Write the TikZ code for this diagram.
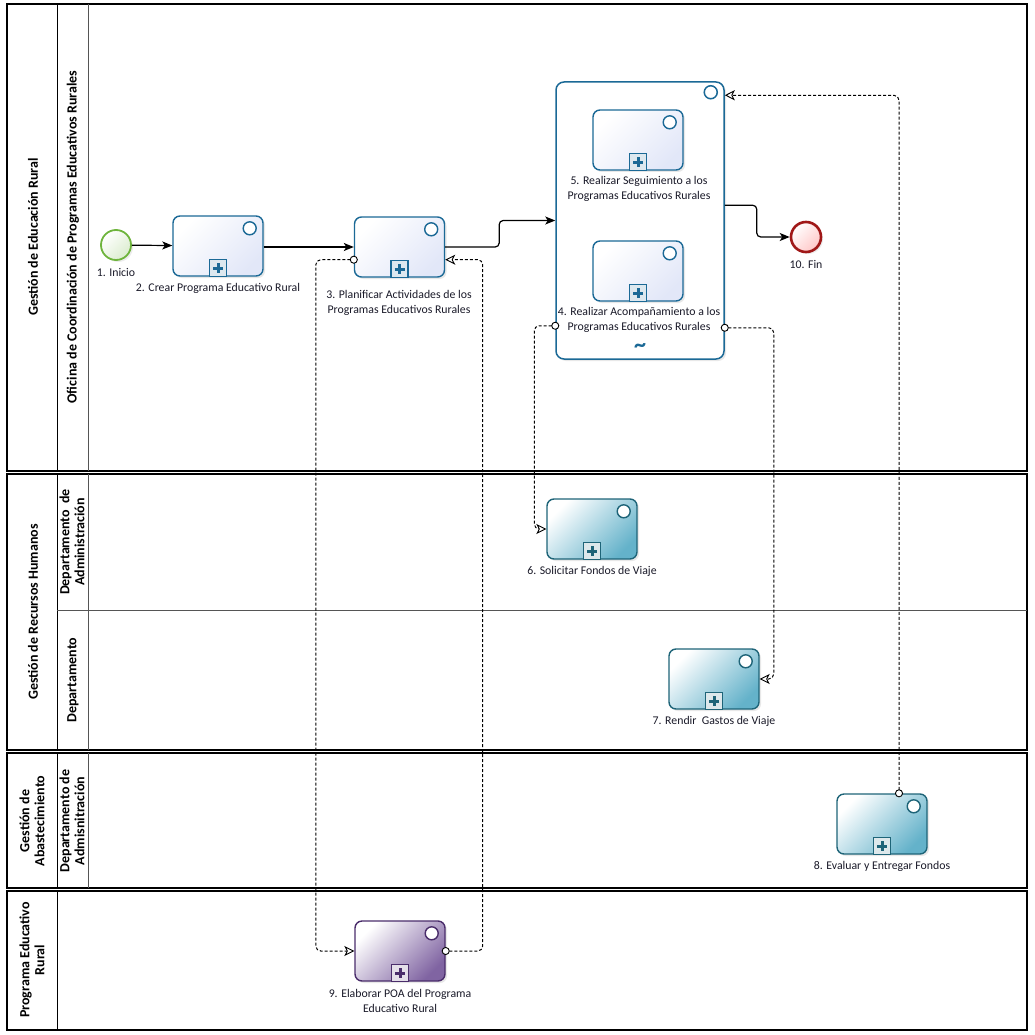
\documentclass[tikz,border=0pt]{standalone}
\usepackage{fontspec}
\setmainfont{Carlito}
\usetikzlibrary{arrows.meta,calc,shadows}
\definecolor{tblue}{RGB}{27,105,150}
\definecolor{tbluefill}{RGB}{226,231,248}
\definecolor{tteal}{RGB}{30,100,120}
\definecolor{ttealfill}{RGB}{100,178,202}
\definecolor{tpurp}{RGB}{74,45,107}
\definecolor{tpurpfill}{RGB}{128,100,162}
\definecolor{sgreen}{RGB}{110,180,60}
\definecolor{ered}{RGB}{160,24,24}
\definecolor{lanegray}{RGB}{85,85,85}
\definecolor{txt}{RGB}{25,25,40}
\tikzset{
  pool/.style={draw=black, line width=1.3pt},
  poolsep/.style={draw=black, line width=1pt},
  lanesep/.style={draw=lanegray, line width=0.9pt},
  poollabel/.style={rotate=90, font=\bfseries\fontsize{14}{15}\selectfont, align=center, text=black},
  taskbase/.style={rectangle, rounded corners=7pt, minimum width=90pt, minimum height=60pt,
     line width=1.4pt, drop shadow={shadow xshift=2pt, shadow yshift=-2pt, opacity=0.18}},
  taskblue/.style={taskbase, draw=tblue, top color=white, bottom color=tbluefill, shading angle=45},
  taskteal/.style={taskbase, draw=tteal, top color=white, bottom color=ttealfill, shading angle=45},
  taskpurp/.style={taskbase, draw=tpurp, top color=white, bottom color=tpurpfill, shading angle=45},
  lbl/.style={font=\fontsize{11.8}{14.5}\selectfont, align=center, text=txt, inner sep=0pt},
  seq/.style={draw=black, line width=1.2pt, rounded corners=4pt, -{Stealth[length=10pt,width=8pt,inset=2.5pt]}},
  msg/.style={draw=black, line width=1pt, dash pattern=on 3pt off 2pt, rounded corners=5pt,
     {Circle[open,length=8pt,width=8pt,line width=0.9pt,fill=white]}-{Stealth[open,length=10pt,width=10pt,inset=2.5pt,fill=white,line width=0.9pt]},
     shorten <=-4pt}
}
\newcommand\tmarks[2]{%
  \draw[#2, line width=1.4pt, fill=white] ($(#1.north east)+(-14,13)$) circle[radius=6.5pt];
  \draw[#2, line width=1.4pt, fill=white!85!#2] ($(#1.south)+(-8.5,0)$) rectangle ($(#1.south)+(8.5,-17)$);
  \draw[#2, line width=3pt] ($(#1.south)+(-5,-8.5)$) -- ($(#1.south)+(5,-8.5)$)
        ($(#1.south)+(0,-13.5)$) -- ($(#1.south)+(0,-3.5)$);
}
\begin{document}
\begin{tikzpicture}[x=1pt,y=-1pt]
\useasboundingbox (0,0) rectangle (1034,1035);
% ---------- pools ----------
\draw[pool] (7,4) rectangle (1027,471);
\draw[poolsep] (57,4) -- (57,471);
\draw[lanesep] (88,4) -- (88,471);
\draw[pool] (7,474) rectangle (1027,750);
\draw[poolsep] (57,474) -- (57,750);
\draw[lanesep] (88,474) -- (88,750);
\draw[lanesep] (57,610) -- (1027,610);
\draw[pool] (7,753) rectangle (1027,888);
\draw[poolsep] (57,753) -- (57,888);
\draw[lanesep] (88,753) -- (88,888);
\draw[pool] (7,891) rectangle (1027,1030);
\draw[poolsep] (57,891) -- (57,1030);
% pool labels
\node[poollabel] (p1) at (33,237) {Gestión de Educación Rural};
\node[poollabel] (l1) at (73,237) {Oficina de Coordinación de Programas Educativos Rurales};
\node[poollabel] (p2) at (33,612) {Gestión de Recursos Humanos};
\node[poollabel] (l2) at (72,542) {Departamento \ de\\Administración};
\node[poollabel] (l3) at (73,680) {Departamento};
\node[poollabel] (p3) at (32,821) {Gestión de\\Abastecimiento};
\node[poollabel] (l4) at (72,821) {Departamento de\\Admisnitración};
\node[poollabel] (p4) at (32,960) {Programa Educativo\\Rural};
% ---------- events ----------
\node[circle, minimum size=30pt, draw=sgreen, line width=1.8pt, top color=white, bottom color=sgreen!25, shading angle=45,
      drop shadow={shadow xshift=2pt, shadow yshift=-2pt, opacity=0.15}] (s1) at (116,245) {};
\node[lbl] (s1l) at (116,272) {1. Inicio};
\node[circle, minimum size=30pt, draw=ered, line width=2.6pt, top color=white, bottom color=red!22, shading angle=45,
      drop shadow={shadow xshift=2pt, shadow yshift=-2pt, opacity=0.15}] (e10) at (806,237) {};
\node[lbl] (e10l) at (806,264) {10. Fin};
% ---------- tasks ----------
\node[taskblue] (t2) at (218,246) {};
\tmarks{t2}{tblue}
\node[lbl] (t2l) at (218,288) {2. Crear Programa Educativo Rural};
\node[taskblue] (t3) at (399.5,247) {};
\tmarks{t3}{tblue}
\node[lbl] (t3l) at (399,303) {3. Planificar Actividades de los\\Programas Educativos Rurales};
% sub-process container
\node[rectangle, rounded corners=8pt, minimum width=168pt, minimum height=277pt, line width=1.5pt, draw=tblue, fill=white,
      drop shadow={shadow xshift=2pt, shadow yshift=-2pt, opacity=0.18}] (sp) at (640,220.5) {};
\draw[tblue, line width=1.5pt, fill=white] ($(sp.north east)+(-14,11)$) circle[radius=6.5pt];
\node[text=tblue, font=\bfseries\fontsize{24}{24}\selectfont, inner sep=0pt] (tilde) at (640,348) {\char"007E};
\node[taskblue] (t5) at (638,140) {};
\tmarks{t5}{tblue}
\node[lbl] (t5l) at (639,189) {5. Realizar Seguimiento a los\\Programas Educativos Rurales};
\node[taskblue] (t4) at (638,271) {};
\tmarks{t4}{tblue}
\node[lbl] (t4l) at (639,320) {4. Realizar Acompañamiento a los\\Programas Educativos Rurales};
\node[taskteal] (t6) at (592,529) {};
\tmarks{t6}{tteal}
\node[lbl] (t6l) at (592,571) {6. Solicitar Fondos de Viaje};
\node[taskteal] (t7) at (714,679) {};
\tmarks{t7}{tteal}
\node[lbl] (t7l) at (714,721) {7. Rendir \ Gastos de Viaje};
\node[taskteal] (t8) at (882,824) {};
\tmarks{t8}{tteal}
\node[lbl] (t8l) at (882,866) {8. Evaluar y Entregar Fondos};
\node[taskpurp] (t9) at (400,951) {};
\tmarks{t9}{tpurp}
\node[lbl] (t9l) at (400,1001) {9. Elaborar POA del Programa\\Educativo Rural};
% ---------- sequence flows ----------
\draw[seq] (s1) -- (t2);
\draw[seq] (t2.east |- t3.west) -- (t3.west);
\draw[seq] (t3.east) -- ++(54,0) |- (sp.west);
\draw[seq] ($(sp.north east)+(0,124)$) -- ++(32,0) |- (e10.west);
% ---------- message flows ----------
\draw[msg] ($(t3.south west)+(0,-18)$) -- ++(-38,0) |- (t9.west);
\draw[msg] (t9.east) -- ++(37,0) |- ($(t3.south east)+(0,-18)$);
\draw[msg] ($(sp.south west)+(0,-34)$) -- ++(-21,0) |- (t6.west);
\draw[msg] ($(sp.south east)+(0,-32)$) -- ++(49,0) |- (t7.east);
\draw[msg] ($(t8.north)+(17,0)$) -- ++(0,-698) -- ($(sp.north east)+(0,14)$);
\end{tikzpicture}
\end{document}
